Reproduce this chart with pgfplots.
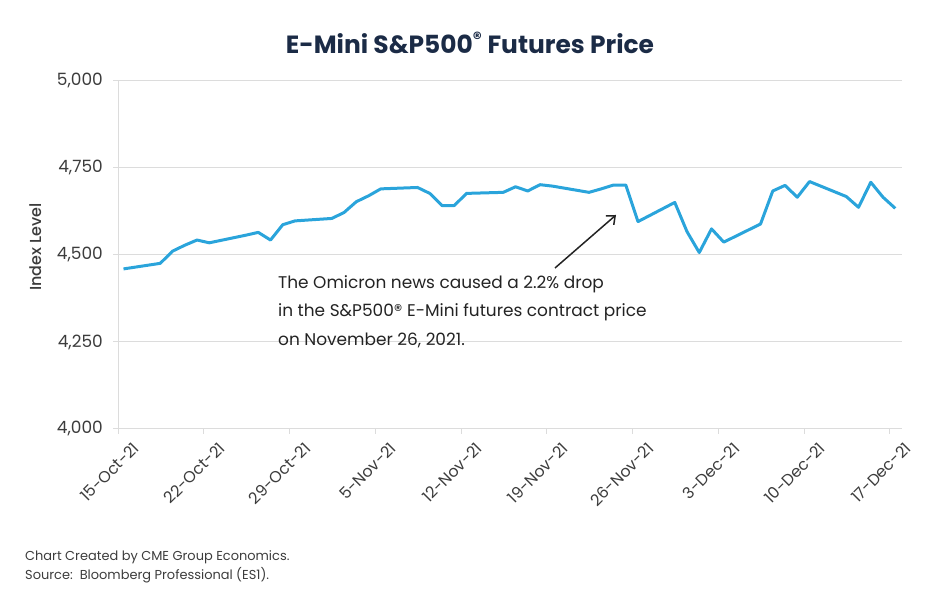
\documentclass[border=0pt]{standalone}
\usepackage{pgfplots}
\pgfplotsset{compat=1.18}
\usetikzlibrary{arrows.meta}
\usepackage{fontspec}
\setmainfont{Poppins}
\newfontfamily\pmed{Poppins Medium}
\definecolor{lineblue}{RGB}{42,164,219}
\definecolor{titlenavy}{RGB}{27,43,70}
\definecolor{gridgray}{RGB}{220,220,220}
\definecolor{txt}{RGB}{60,60,60}
\definecolor{annot}{RGB}{35,35,35}
\pgfplotstableread{
x y
0.45 4460
3.45 4476
4.45 4511
5.45 4528
6.45 4543
7.45 4535
10.45 4557
11.45 4565
12.45 4543
13.45 4587
14.45 4598
17.45 4605
18.45 4622
19.45 4653
20.45 4670
21.45 4690
24.45 4694
25.45 4677
26.45 4642
27.45 4642
28.45 4677
31.45 4680
32.45 4696
33.45 4684
34.45 4702
35.45 4698
38.45 4680
39.45 4690
40.45 4701
41.45 4701
42.45 4596
45.45 4651
46.45 4567
47.45 4507
48.45 4575
49.45 4537
52.45 4589
53.45 4684
54.45 4700
55.45 4666
56.45 4711
59.45 4668
60.45 4637
61.45 4709
62.45 4666
63.45 4634
}\es
\begin{document}
\begin{tikzpicture}[x=1bp,y=1bp]
\path[use as bounding box] (0,0) rectangle (940,600);
\node[font=\fontsize{25}{30}\selectfont\bfseries, text=titlenavy] at (470,557) {E-Mini S\&P500\textsuperscript{®} Futures Price};
\begin{axis}[
  at={(118bp,171bp)}, anchor=south west,
  scale only axis, width=784bp, height=348bp,
  xmin=0, xmax=64, ymin=4000, ymax=5000,
  axis x line*=bottom, axis y line*=left,
  axis line style={draw=gridgray, line width=1bp},
  ymajorgrids, grid style={draw=gridgray, line width=1bp},
  ytick={4000,4250,4500,4750,5000},
  xtick={0,7,14,21,28,35,42,49,56,63},
  xticklabels={15-Oct-21,22-Oct-21,29-Oct-21,5-Nov-21,12-Nov-21,19-Nov-21,26-Nov-21,3-Dec-21,10-Dec-21,17-Dec-21},
  tick align=outside, major tick length=5bp,
  tick style={draw=gridgray, line width=1bp},
  /pgf/number format/assume math mode=true,
  /pgf/number format/1000 sep={,},
  yticklabel style={font=\fontsize{17}{20}\selectfont, text=txt, anchor=east, inner sep=0pt, xshift=-10bp},
  xticklabel style={font=\fontsize{16}{20}\selectfont, text=txt, rotate=45, anchor=east, inner sep=0pt, xshift=5bp, yshift=-21bp},
]
\addplot[lineblue, line width=3bp, line join=round] table[x=x,y=y] {\es};
\end{axis}
\node[rotate=90, font=\fontsize{16}{20}\pmed, text=txt] at (36,353) {Index Level};
\node[anchor=north west, align=left, font=\fontsize{17}{29}\selectfont, text=annot, inner sep=0pt] at (278,325) {The Omicron news caused a 2.2\% drop\\in the S\&P500® E-Mini futures contract price\\on November 26, 2021.};
\draw[annot, line width=1.5bp, -{Straight Barb[length=7bp, width=12bp]}] (555,332) -- (616,385);
\node[anchor=west, font=\fontsize{13}{16}\selectfont, text=txt, inner sep=0pt] at (25,43) {Chart Created by CME Group Economics.};
\node[anchor=west, font=\fontsize{13}{16}\selectfont, text=txt, inner sep=0pt] at (25,25) {Source:\ \ Bloomberg Professional (ES1).};
\end{tikzpicture}
\end{document}
